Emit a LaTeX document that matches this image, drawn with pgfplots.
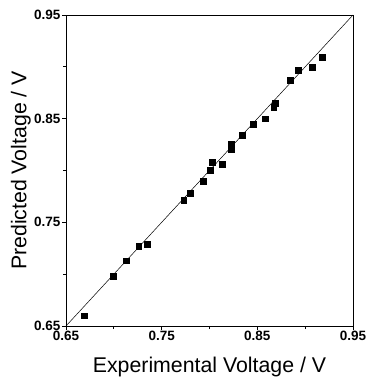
\documentclass[border=0pt]{standalone}
\usepackage{pgfplots}
\pgfplotsset{compat=1.18}
\usepackage{fontspec}
\setmainfont{Liberation Sans}
\begin{document}
\begin{tikzpicture}
\useasboundingbox (-66pt,-53pt) rectangle (301pt,326pt);
\begin{axis}[
  at={(0pt,0pt)}, anchor=origin,
  scale only axis, width=287pt, height=311pt,
  xmin=0.65, xmax=0.95, ymin=0.65, ymax=0.95,
  xtick={0.65,0.75,0.85,0.95}, ytick={0.65,0.75,0.85,0.95},
  minor tick num=1,
  xticklabels={0.65,0.75,0.85,0.95},
  yticklabels={0.65,0.75,0.85,0.95},
  tick align=outside, xtick pos=left, ytick pos=left,
  major tick length=4pt, minor tick length=3pt,
  axis line style={line width=0.9pt},
  every tick/.style={black, line width=0.8pt},
  tick label style={font=\fontsize{13.5}{14}\selectfont\bfseries},
  xticklabel style={yshift=2pt},
  yticklabel style={xshift=2pt},
  xlabel={Experimental Voltage / V},
  ylabel={Predicted Voltage / V},
  every axis x label/.style={at={(axis description cs:0.5,-0.132)}, anchor=center, font=\fontsize{21.3}{22}\selectfont},
  every axis y label/.style={at={(axis description cs:-0.157,0.5)}, rotate=90, anchor=center, font=\fontsize{21.3}{22}\selectfont},
  clip=false,
]
\addplot[black, line width=0.5pt] coordinates {(0.65,0.65) (0.95,0.95)};
\addplot[only marks, mark=square*, mark size=2.9pt, black] coordinates {
(0.918,0.909) (0.907,0.900) (0.893,0.897) (0.884,0.887) (0.869,0.865)
(0.867,0.861) (0.858,0.850) (0.846,0.845) (0.834,0.834) (0.823,0.825)
(0.823,0.820) (0.803,0.808) (0.813,0.806) (0.801,0.800) (0.793,0.790)
(0.780,0.778) (0.773,0.771) (0.735,0.729) (0.726,0.727) (0.713,0.713)
(0.699,0.698) (0.669,0.660)
};
\end{axis}
\end{tikzpicture}
\end{document}
